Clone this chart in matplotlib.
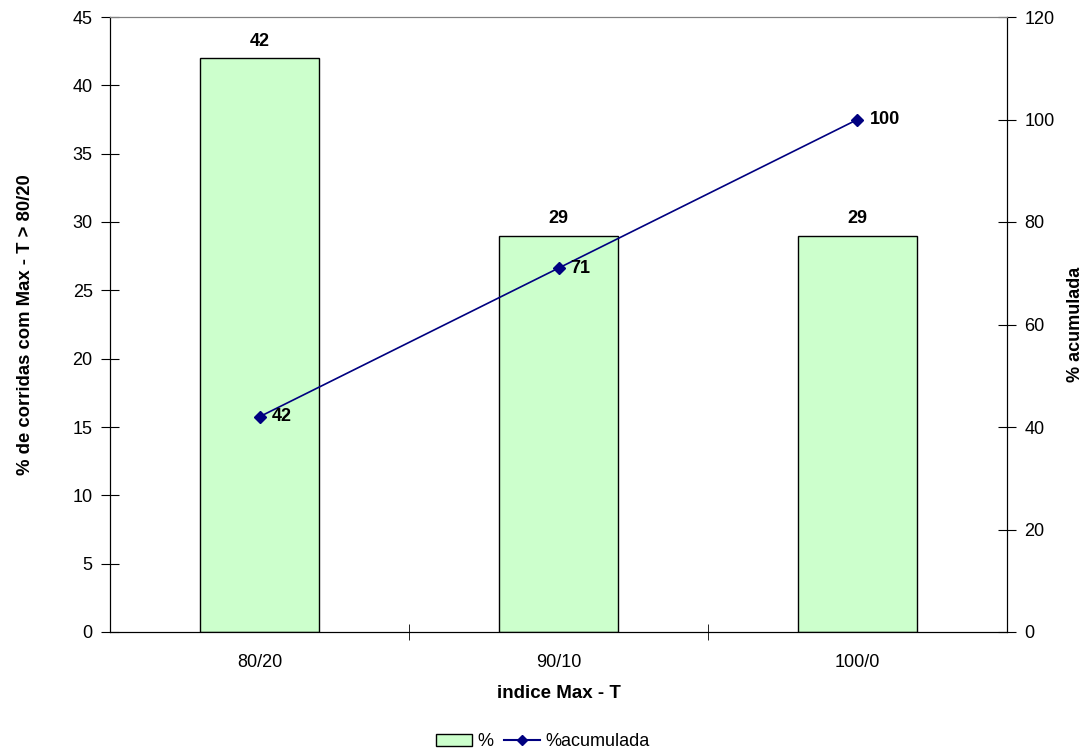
import matplotlib.pyplot as plt
from matplotlib.lines import Line2D
from matplotlib.patches import Patch

plt.rcParams['font.family'] = ['Liberation Sans', 'DejaVu Sans']

categories = ['80/20', '90/10', '100/0']
percent = [42, 29, 29]
cumulative = [42, 71, 100]

bar_color = '#CCFFCC'
line_color = '#000080'

fig = plt.figure(figsize=(10.86, 7.5), dpi=100)
ax = fig.add_axes([110 / 1086, 118 / 750, 897 / 1086, 615 / 750])
x = list(range(len(categories)))

ax.bar(x, percent, width=0.4, color=bar_color, edgecolor='black', linewidth=1, zorder=2)
for xi, v in zip(x, percent):
    ax.text(xi, v + 0.6, str(v), ha='center', va='bottom', fontsize=13, fontweight='bold')

ax.set_xlim(-0.5, 2.5)
ax.set_ylim(0, 45)
ax.set_yticks(range(0, 46, 5))
ax.set_xticks(x)
ax.set_xticklabels(categories, fontsize=13)
ax.tick_params(axis='x', length=0, pad=16)
ax.set_xticks([0.5, 1.5], minor=True)
ax.tick_params(axis='x', which='minor', direction='inout', length=12)
ax.tick_params(axis='y', direction='inout', length=13, labelsize=13, pad=6)
ax.set_xlabel('indice Max - T', fontsize=13.5, fontweight='bold', labelpad=10)
ax.set_ylabel('% de corridas com Max - T > 80/20', fontsize=13.3, fontweight='bold', labelpad=28)
ax.spines['top'].set_color('#808080')
ax.spines['top'].set_linewidth(0.8)

ax2 = ax.twinx()
ax2.plot(x, cumulative, color=line_color, marker='D', markersize=6, linewidth=1.2, zorder=3)
for xi, v in zip(x, cumulative):
    ax2.text(xi + 0.04, v, str(v), ha='left', va='center', fontsize=13, fontweight='bold')
ax2.set_ylim(0, 120)
ax2.set_yticks(range(0, 121, 20))
ax2.tick_params(axis='y', direction='inout', length=13, labelsize=13, pad=6)
ax2.set_ylabel('% acumulada', fontsize=13, fontweight='bold', labelpad=9)
ax2.spines['top'].set_color('#808080')

handles = [Patch(facecolor=bar_color, edgecolor='black', label='%'),
           Line2D([], [], color=line_color, marker='D', markersize=5, label='%acumulada')]
fig.legend(handles=handles, loc='lower center', bbox_to_anchor=(0.5, -0.022), ncol=2,
           frameon=False, fontsize=13, handlelength=2, handletextpad=0.3, columnspacing=0.6)

fig.savefig('out.png', dpi=100)
